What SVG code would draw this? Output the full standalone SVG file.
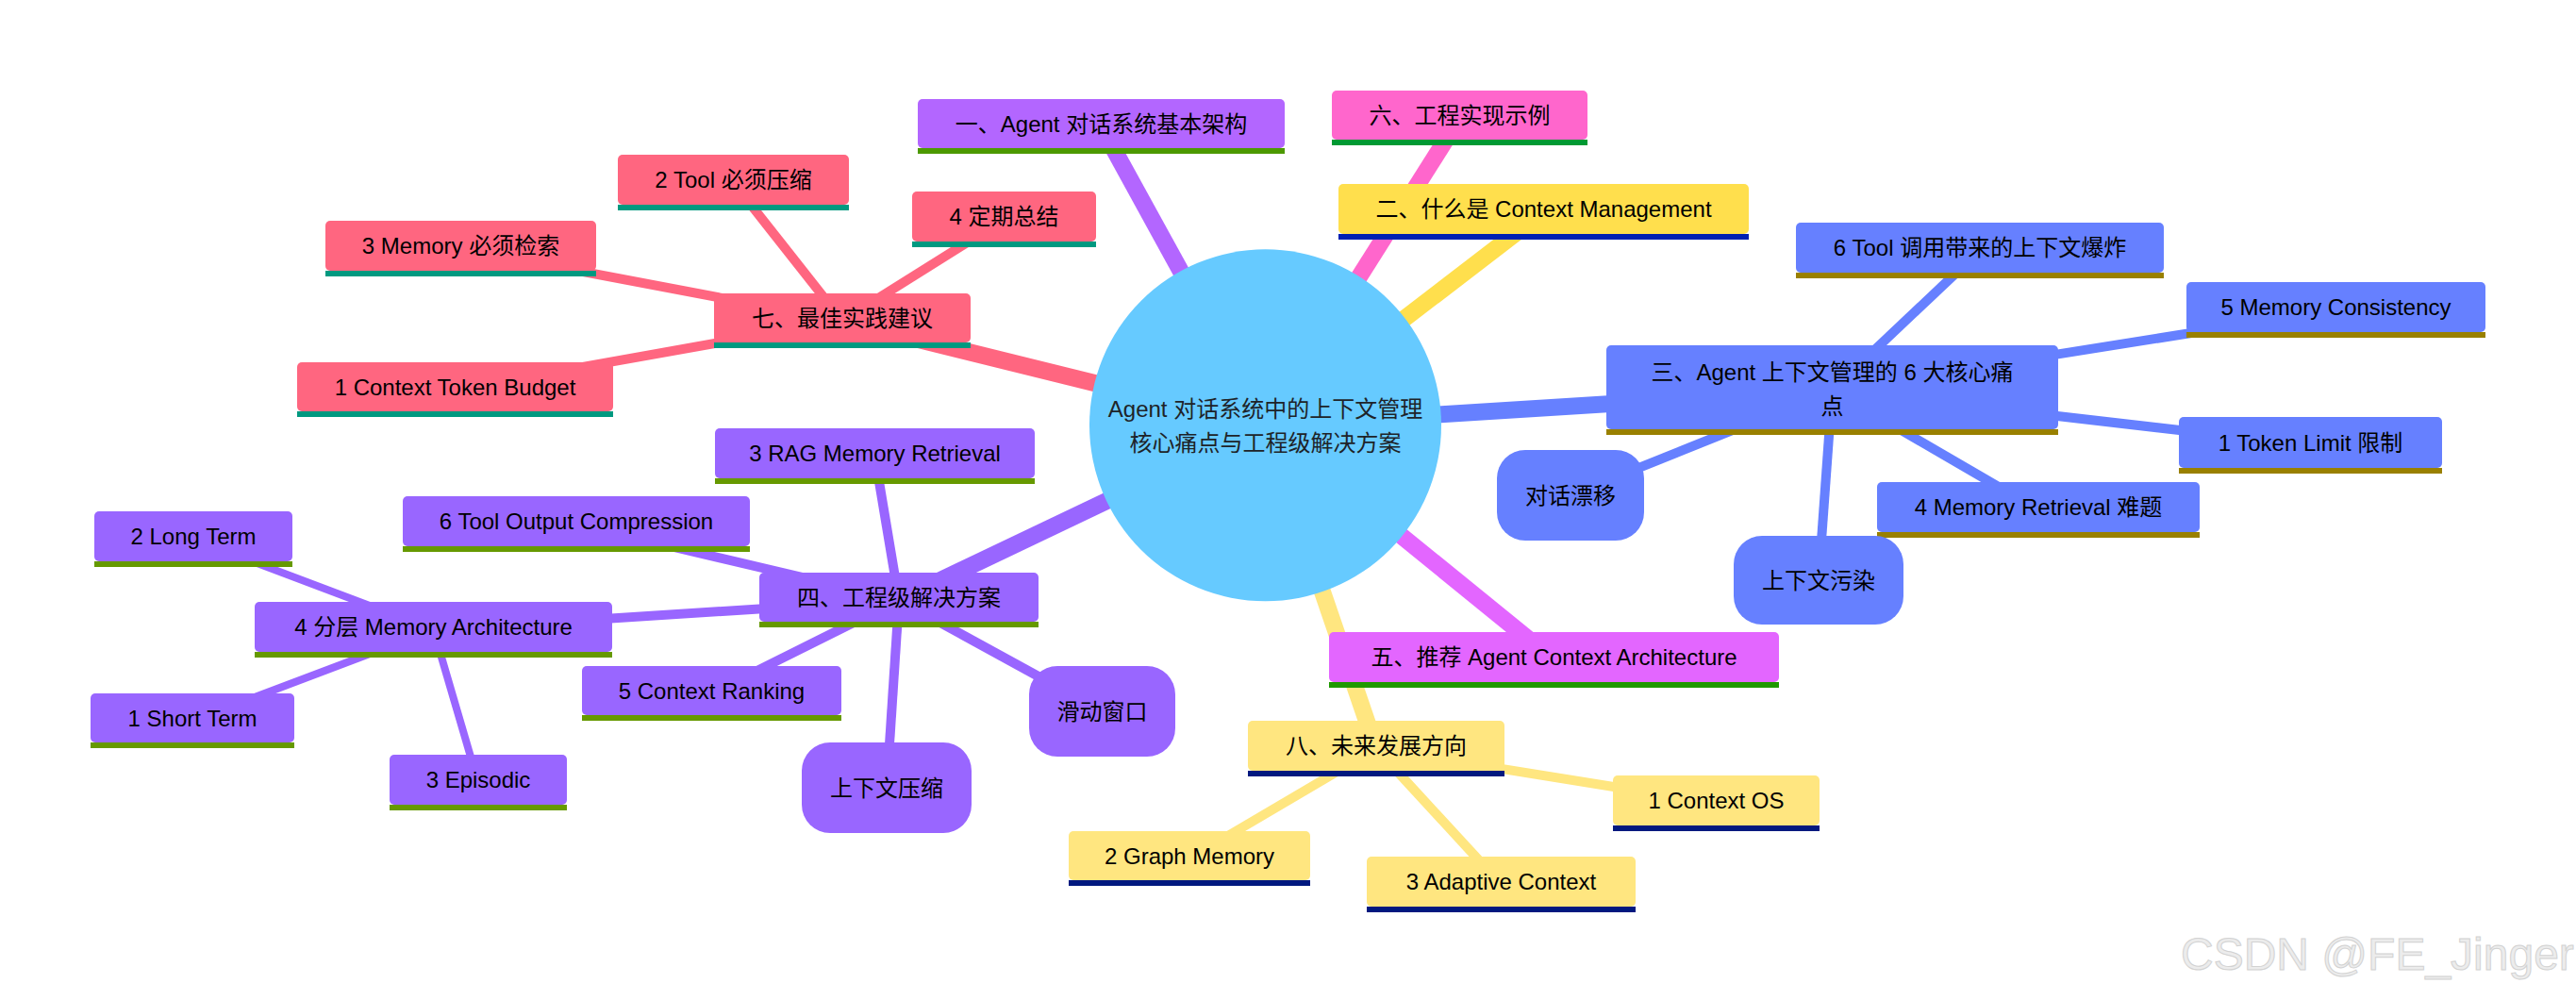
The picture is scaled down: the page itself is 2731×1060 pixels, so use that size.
<svg xmlns="http://www.w3.org/2000/svg" width="2731" height="1060" viewBox="0 0 2731 1060">
<style>
text{font-family:"Liberation Sans","Noto Sans CJK SC",sans-serif;font-size:24px;text-anchor:middle;fill:#000}
.e0{stroke-width:18;fill:none}
.e1{stroke-width:10;fill:none}
.e2{stroke-width:8;fill:none}
.c1{stroke:#b366ff}.c2{stroke:#ffdf4d}.c3{stroke:#6680ff}.c4{stroke:#9966ff}
.c5{stroke:#e366ff}.c6{stroke:#ff66cc}.c7{stroke:#ff6680}.c8{stroke:#ffe680}
.f1{fill:#b366ff}.f2{fill:#ffdf4d}.f3{fill:#6680ff}.f4{fill:#9966ff}
.f5{fill:#e366ff}.f6{fill:#ff66cc}.f7{fill:#ff6680}.f8{fill:#ffe680}
.u1{fill:#4c9900}.u2{fill:#0020b2}.u3{fill:#998000}.u4{fill:#669900}
.u5{fill:#1f9900}.u6{fill:#009933}.u7{fill:#009980}.u8{fill:#00197f}
.root text{fill:#1e2328}
.wm{font-size:48px;text-anchor:start;fill:#ececec;stroke:#d2d2d2;stroke-width:1}
</style>

<g id="connectors">
  <!-- root edges -->
  <line class="e0 c1" x1="1341.5" y1="450.8" x2="1167.5" y2="134"/>
  <line class="e0 c6" x1="1341.5" y1="450.8" x2="1547.5" y2="125"/>
  <line class="e0 c2" x1="1341.5" y1="450.8" x2="1636.5" y2="224.5"/>
  <line class="e0 c3" x1="1341.5" y1="450.8" x2="1942.5" y2="413.5"/>
  <line class="e0 c4" x1="1341.5" y1="450.8" x2="953" y2="636"/>
  <line class="e0 c5" x1="1341.5" y1="450.8" x2="1647.5" y2="699.5"/>
  <line class="e0 c7" x1="1341.5" y1="450.8" x2="893" y2="340"/>
  <line class="e0 c8" x1="1341.5" y1="450.8" x2="1459" y2="793.5"/>
  <!-- 七 -->
  <line class="e1 c7" x1="893" y1="340" x2="777.5" y2="193.5"/>
  <line class="e1 c7" x1="893" y1="340" x2="488.5" y2="263.5"/>
  <line class="e1 c7" x1="893" y1="340" x2="482.5" y2="413"/>
  <line class="e1 c7" x1="893" y1="340" x2="1064.5" y2="232.5"/>
  <!-- 三 -->
  <line class="e1 c3" x1="1942.5" y1="413.5" x2="2099" y2="265.5"/>
  <line class="e1 c3" x1="1942.5" y1="413.5" x2="2476.5" y2="328.5"/>
  <line class="e1 c3" x1="1942.5" y1="413.5" x2="2449.5" y2="472"/>
  <line class="e1 c3" x1="1942.5" y1="413.5" x2="2161" y2="540.5"/>
  <line class="e1 c3" x1="1942.5" y1="413.5" x2="1665" y2="525"/>
  <line class="e1 c3" x1="1942.5" y1="413.5" x2="1928" y2="615"/>
  <!-- 四 -->
  <line class="e1 c4" x1="953" y1="636" x2="927.5" y2="483.5"/>
  <line class="e1 c4" x1="953" y1="636" x2="611" y2="555.5"/>
  <line class="e1 c4" x1="953" y1="636" x2="459.5" y2="667.5"/>
  <line class="e1 c4" x1="953" y1="636" x2="754.5" y2="735"/>
  <line class="e1 c4" x1="953" y1="636" x2="1168.5" y2="754"/>
  <line class="e1 c4" x1="953" y1="636" x2="940" y2="835"/>
  <line class="e2 c4" x1="459.5" y1="667.5" x2="205" y2="571.5"/>
  <line class="e2 c4" x1="459.5" y1="667.5" x2="204" y2="764"/>
  <line class="e2 c4" x1="459.5" y1="667.5" x2="507" y2="829.5"/>
  <!-- 八 -->
  <line class="e1 c8" x1="1459" y1="793.5" x2="1819.5" y2="851.5"/>
  <line class="e1 c8" x1="1459" y1="793.5" x2="1261" y2="910"/>
  <line class="e1 c8" x1="1459" y1="793.5" x2="1591.5" y2="937.5"/>
</g>

<g id="root" class="root">
  <circle cx="1341.5" cy="450.8" r="186.5" fill="#66caff"/>
  <text x="1341.5" y="441.5">Agent 对话系统中的上下文管理</text>
  <text x="1341.5" y="477.5">核心痛点与工程级解决方案</text>
</g>

<!-- 一 -->
<g id="n1">
  <rect class="f1" x="973" y="105" width="389" height="52" rx="5"/>
  <rect class="u1" x="973" y="157" width="389" height="6"/>
  <text x="1167.5" y="139.5">一、Agent 对话系统基本架构</text>
</g>
<!-- 二 -->
<g id="n2">
  <rect class="f2" x="1419" y="195" width="435" height="53" rx="5"/>
  <rect class="u2" x="1419" y="248" width="435" height="6"/>
  <text x="1636.5" y="230">二、什么是 Context Management</text>
</g>
<!-- 三 -->
<g id="n3">
  <rect class="f3" x="1703" y="366" width="479" height="89" rx="5"/>
  <rect class="u3" x="1703" y="455" width="479" height="6"/>
  <text x="1942.5" y="402.5">三、Agent 上下文管理的 6 大核心痛</text>
  <text x="1942.5" y="438.5">点</text>
</g>
<g id="n3-6">
  <rect class="f3" x="1904" y="236" width="390" height="53" rx="5"/>
  <rect class="u3" x="1904" y="289" width="390" height="6"/>
  <text x="2099" y="271">6 Tool 调用带来的上下文爆炸</text>
</g>
<g id="n3-5">
  <rect class="f3" x="2318" y="299" width="317" height="53" rx="5"/>
  <rect class="u3" x="2318" y="352" width="317" height="6"/>
  <text x="2476.5" y="334">5 Memory Consistency</text>
</g>
<g id="n3-1">
  <rect class="f3" x="2310" y="442" width="279" height="54" rx="5"/>
  <rect class="u3" x="2310" y="496" width="279" height="6"/>
  <text x="2449.5" y="477.5">1 Token Limit 限制</text>
</g>
<g id="n3-4">
  <rect class="f3" x="1990" y="511" width="342" height="53" rx="5"/>
  <rect class="u3" x="1990" y="564" width="342" height="6"/>
  <text x="2161" y="546">4 Memory Retrieval 难题</text>
</g>
<g id="n3-drift">
  <rect class="f3" x="1587" y="477" width="156" height="96" rx="30"/>
  <text x="1665" y="533.5">对话漂移</text>
</g>
<g id="n3-pollution">
  <rect class="f3" x="1838" y="568" width="180" height="94" rx="30"/>
  <text x="1928" y="623.5">上下文污染</text>
</g>
<!-- 四 -->
<g id="n4">
  <rect class="f4" x="805" y="607" width="296" height="52" rx="5"/>
  <rect class="u4" x="805" y="659" width="296" height="6"/>
  <text x="953" y="641.5">四、工程级解决方案</text>
</g>
<g id="n4-3">
  <rect class="f4" x="758" y="454" width="339" height="53" rx="5"/>
  <rect class="u4" x="758" y="507" width="339" height="6"/>
  <text x="927.5" y="489">3 RAG Memory Retrieval</text>
</g>
<g id="n4-6">
  <rect class="f4" x="427" y="526" width="368" height="53" rx="5"/>
  <rect class="u4" x="427" y="579" width="368" height="6"/>
  <text x="611" y="561">6 Tool Output Compression</text>
</g>
<g id="n4-4">
  <rect class="f4" x="270" y="638" width="379" height="53" rx="5"/>
  <rect class="u4" x="270" y="691" width="379" height="6"/>
  <text x="459.5" y="673">4 分层 Memory Architecture</text>
</g>
<g id="n4-4-2">
  <rect class="f4" x="100" y="542" width="210" height="53" rx="5"/>
  <rect class="u4" x="100" y="595" width="210" height="6"/>
  <text x="205" y="577">2 Long Term</text>
</g>
<g id="n4-4-1">
  <rect class="f4" x="96" y="735" width="216" height="52" rx="5"/>
  <rect class="u4" x="96" y="787" width="216" height="6"/>
  <text x="204" y="769.5">1 Short Term</text>
</g>
<g id="n4-4-3">
  <rect class="f4" x="413" y="800" width="188" height="53" rx="5"/>
  <rect class="u4" x="413" y="853" width="188" height="6"/>
  <text x="507" y="835">3 Episodic</text>
</g>
<g id="n4-5">
  <rect class="f4" x="617" y="706" width="275" height="52" rx="5"/>
  <rect class="u4" x="617" y="758" width="275" height="6"/>
  <text x="754.5" y="740.5">5 Context Ranking</text>
</g>
<g id="n4-window">
  <rect class="f4" x="1091" y="706" width="155" height="96" rx="30"/>
  <text x="1168.5" y="762.5">滑动窗口</text>
</g>
<g id="n4-compress">
  <rect class="f4" x="850" y="787" width="180" height="96" rx="30"/>
  <text x="940" y="843.5">上下文压缩</text>
</g>
<!-- 五 -->
<g id="n5">
  <rect class="f5" x="1409" y="670" width="477" height="53" rx="5"/>
  <rect class="u5" x="1409" y="723" width="477" height="6"/>
  <text x="1647.5" y="705">五、推荐 Agent Context Architecture</text>
</g>
<!-- 六 -->
<g id="n6">
  <rect class="f6" x="1412" y="96" width="271" height="52" rx="5"/>
  <rect class="u6" x="1412" y="148" width="271" height="6"/>
  <text x="1547.5" y="130.5">六、工程实现示例</text>
</g>
<!-- 七 -->
<g id="n7">
  <rect class="f7" x="757" y="311" width="272" height="52" rx="5"/>
  <rect class="u7" x="757" y="363" width="272" height="6"/>
  <text x="893" y="345.5">七、最佳实践建议</text>
</g>
<g id="n7-2">
  <rect class="f7" x="655" y="164" width="245" height="53" rx="5"/>
  <rect class="u7" x="655" y="217" width="245" height="6"/>
  <text x="777.5" y="199">2 Tool 必须压缩</text>
</g>
<g id="n7-3">
  <rect class="f7" x="345" y="234" width="287" height="53" rx="5"/>
  <rect class="u7" x="345" y="287" width="287" height="6"/>
  <text x="488.5" y="269">3 Memory 必须检索</text>
</g>
<g id="n7-1">
  <rect class="f7" x="315" y="384" width="335" height="52" rx="5"/>
  <rect class="u7" x="315" y="436" width="335" height="6"/>
  <text x="482.5" y="418.5">1 Context Token Budget</text>
</g>
<g id="n7-4">
  <rect class="f7" x="967" y="203" width="195" height="53" rx="5"/>
  <rect class="u7" x="967" y="256" width="195" height="6"/>
  <text x="1064.5" y="238">4 定期总结</text>
</g>
<!-- 八 -->
<g id="n8">
  <rect class="f8" x="1323" y="764" width="272" height="53" rx="5"/>
  <rect class="u8" x="1323" y="817" width="272" height="6"/>
  <text x="1459" y="799">八、未来发展方向</text>
</g>
<g id="n8-1">
  <rect class="f8" x="1710" y="822" width="219" height="53" rx="5"/>
  <rect class="u8" x="1710" y="875" width="219" height="6"/>
  <text x="1819.5" y="857">1 Context OS</text>
</g>
<g id="n8-2">
  <rect class="f8" x="1133" y="881" width="256" height="52" rx="5"/>
  <rect class="u8" x="1133" y="933" width="256" height="6"/>
  <text x="1261" y="915.5">2 Graph Memory</text>
</g>
<g id="n8-3">
  <rect class="f8" x="1449" y="908" width="285" height="53" rx="5"/>
  <rect class="u8" x="1449" y="961" width="285" height="6"/>
  <text x="1591.5" y="943">3 Adaptive Context</text>
</g>

<text class="wm" x="2312" y="1028">CSDN @FE_Jinger</text>
</svg>
